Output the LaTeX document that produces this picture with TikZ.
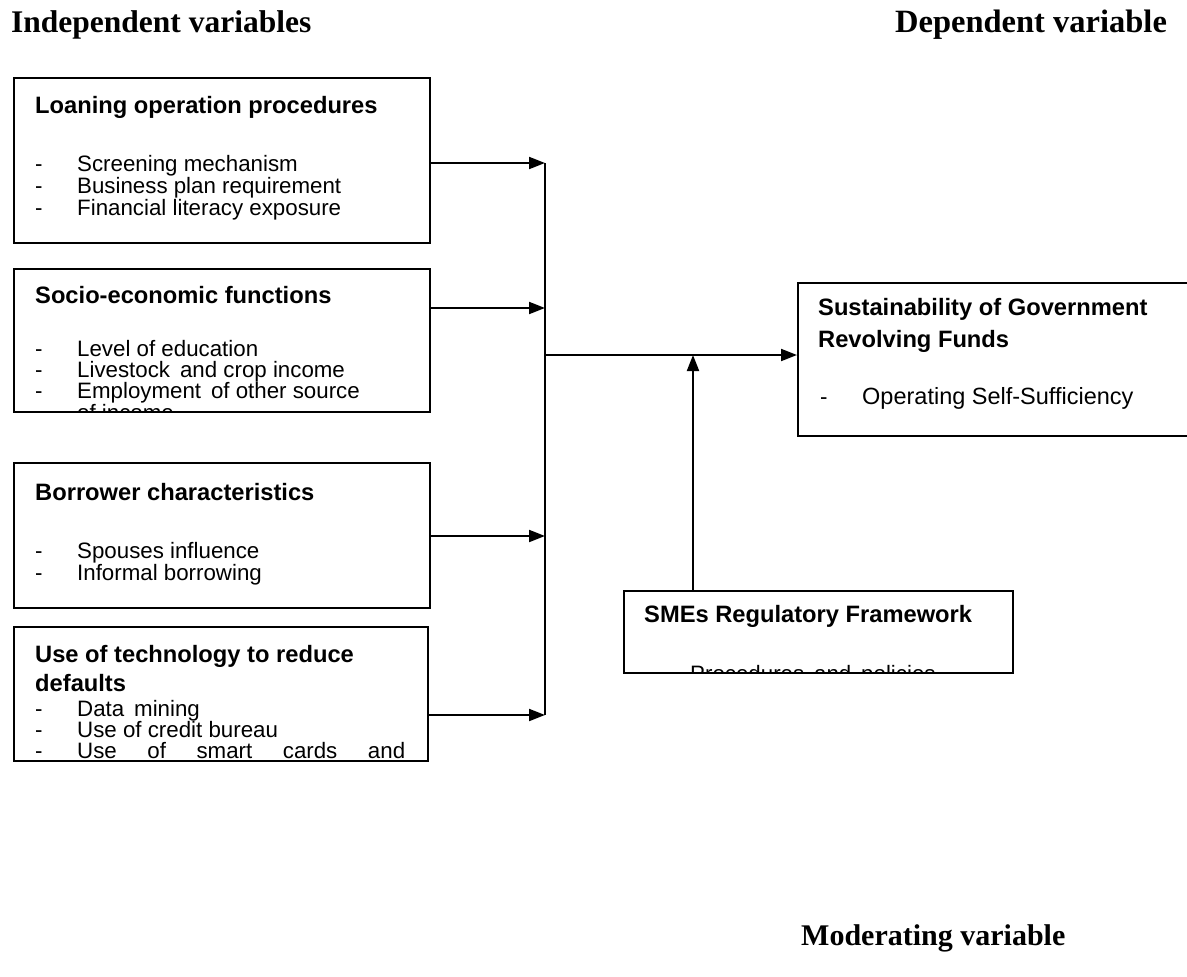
\documentclass[tikz,border=0pt]{standalone}
\usepackage{fontspec}
\setmainfont{Liberation Sans}
\newfontfamily\serifb{Liberation Serif}
\usetikzlibrary{arrows.meta}
\begin{document}
\begin{tikzpicture}[x=1pt,y=-1pt,
  box/.style={draw,line width=2pt,anchor=north west,inner sep=0pt},
  txt/.style={anchor=base west,inner sep=0pt,font=\fontsize{22.3}{22.3}\selectfont},
  hd/.style={anchor=base west,inner sep=0pt,font=\fontsize{23.7}{23.7}\selectfont\bfseries},
  ttl/.style={anchor=base west,inner sep=0pt,font=\fontsize{31.5}{31.5}\selectfont\serifb\bfseries},
  line/.style={line width=2pt},
  conn/.style={line width=2pt,-{Triangle[length=16pt,width=12pt]}}]
\useasboundingbox[fill=white] (0,0) rectangle (1187,977);

% titles
\node[ttl] (t1) at (11,32) {Independent variables};
\node[ttl,font=\fontsize{32.5}{32.5}\selectfont\serifb\bfseries] (t2) at (895,32) {Dependent variable};
\node[ttl,font=\fontsize{30}{30}\selectfont\serifb\bfseries] (t3) at (801,945) {Moderating variable};

% boxes
\node[box,minimum width=416pt,minimum height=165pt] (b1) at (13,77) {};
\node[box,minimum width=416pt,minimum height=143pt] (b2) at (13,268) {};
\node[box,minimum width=416pt,minimum height=145pt] (b3) at (13,462) {};
\node[box,minimum width=414pt,minimum height=134pt] (b4) at (13,626) {};
\node[box,minimum width=420pt,minimum height=153pt] (b5) at (797,282) {};
\node[box,minimum width=389pt,minimum height=82pt] (b6) at (623,590) {};

% box 1
\node[hd] (h1) at (35,113) {Loaning operation procedures};
\node[txt] (d11) at (35,171) {-};  \node[txt] (l11) at (77,171) {Screening mechanism};
\node[txt] (d12) at (35,193) {-};  \node[txt] (l12) at (77,193) {Business plan requirement};
\node[txt] (d13) at (35,215) {-};  \node[txt] (l13) at (77,215) {Financial literacy exposure};

% box 2
\begin{scope}
\clip (13,268) rectangle (429,411);
\node[hd] (h2) at (35,303) {Socio-economic functions};
\node[txt] (d21) at (35,356) {-};  \node[txt] (l21) at (77,356) {Level of education};
\node[txt] (d22) at (35,377) {-};  \node[txt] (l22) at (77,377) {Livestock\, and crop income};
\node[txt] (d23) at (35,398) {-};  \node[txt] (l23) at (77,398) {Employment\, of other source};
\node[txt] (l24) at (77,420) {of income};
\end{scope}

% box 3
\node[hd] (h3) at (35,500) {Borrower characteristics};
\node[txt] (d31) at (35,558) {-};  \node[txt] (l31) at (77,558) {Spouses influence};
\node[txt] (d32) at (35,580) {-};  \node[txt] (l32) at (77,580) {Informal borrowing};

% box 4
\begin{scope}
\clip (13,626) rectangle (427,760);
\node[hd] (h4a) at (35,662) {Use of technology to reduce};
\node[hd] (h4b) at (35,691) {defaults};
\node[txt] (d41) at (35,716) {-};  \node[txt] (l41) at (77,716) {Data\, mining};
\node[txt] (d42) at (35,737) {-};  \node[txt] (l42) at (77,737) {Use of credit bureau};
\node[txt] (d43) at (35,758) {-};  \node[txt] (l43) at (77,758) {\hbox to 328pt{Use\hfil of\hfil smart\hfil cards\hfil and}};
\end{scope}

% box 5
\node[hd] (h5a) at (818,315) {Sustainability of Government};
\node[hd] (h5b) at (818,347) {Revolving Funds};
\node[txt] (d51) at (820,404) {-};
\node[txt,font=\fontsize{23.5}{23.5}\selectfont] (l51) at (862,404) {Operating Self-Sufficiency};

% box 6
\begin{scope}
\clip (623,590) rectangle (1012,672);
\node[hd] (h6) at (644,622) {SMEs Regulatory Framework};
\node[txt] (l61) at (690,681) {Procedures\, and\, policies};
\end{scope}

% connectors
\coordinate (j1) at (545,163);
\coordinate (j2) at (545,308);
\coordinate (j3) at (545,536);
\coordinate (j4) at (545,715);
\coordinate (m) at (545,355);
\coordinate (mod) at (693,590);
\draw[line] (j1) -- (j4);
\draw[conn] (b1.east |- j1) -- (j1);
\draw[conn] (b2.east |- j2) -- (j2);
\draw[conn] (b3.east |- j3) -- (j3);
\draw[conn] (b4.east |- j4) -- (j4);
\draw[conn] (m) -- (b5.west |- m);
\draw[conn] (mod) -- (mod |- m);
\end{tikzpicture}
\end{document}
